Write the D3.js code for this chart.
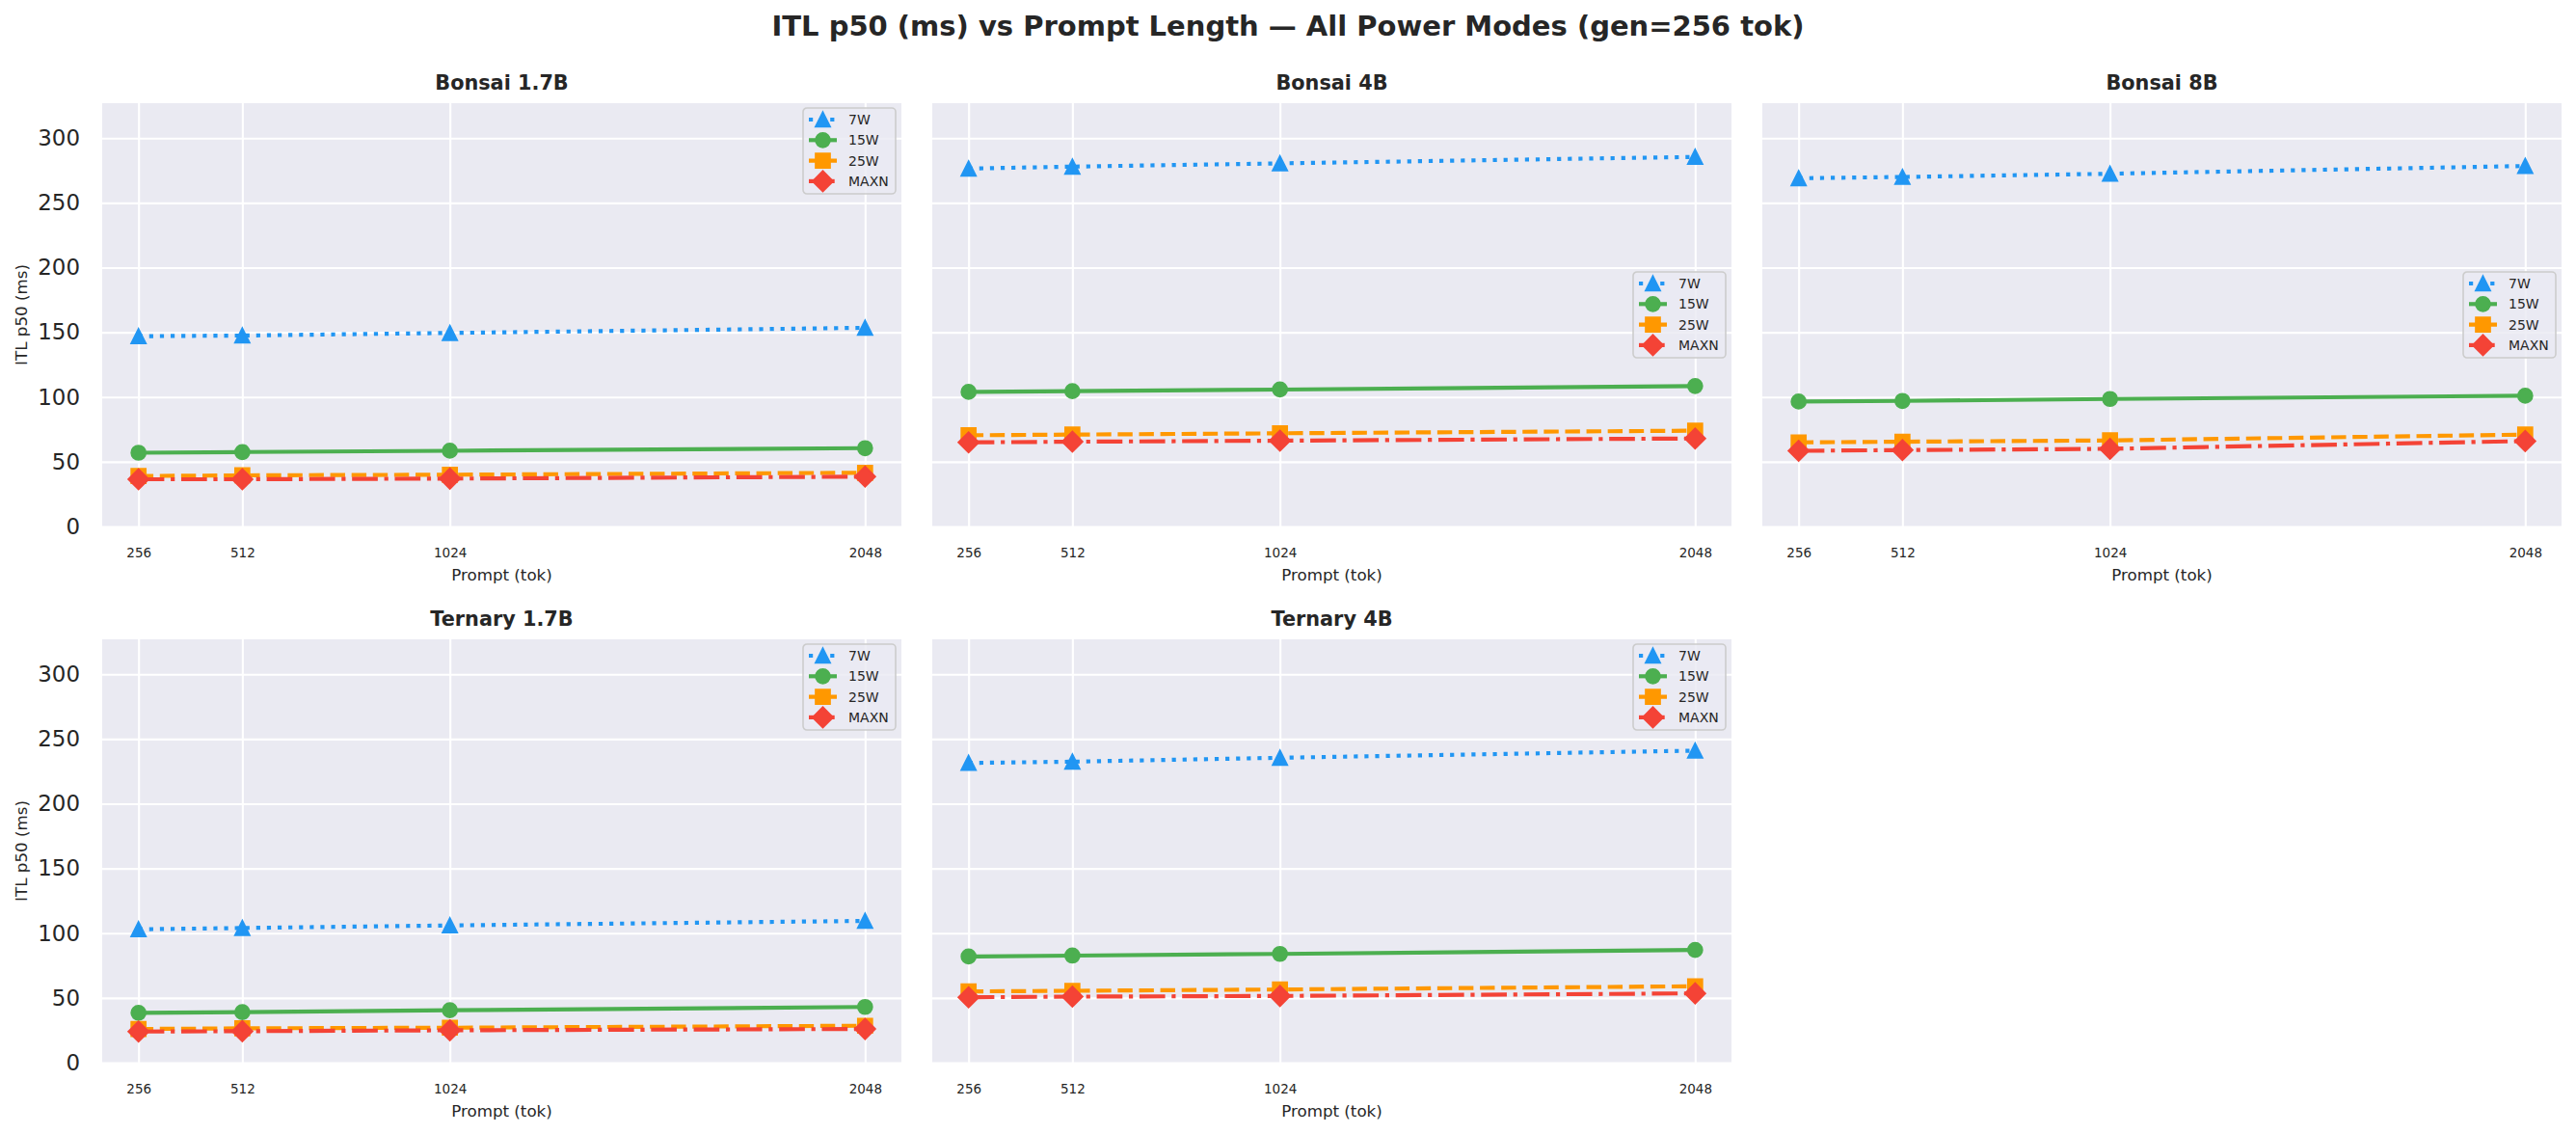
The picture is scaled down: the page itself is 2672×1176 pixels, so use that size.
<!DOCTYPE html>
<html>
<head>
<meta charset="utf-8">
<script src="https://cdn.jsdelivr.net/npm/d3@7"></script>
<style>
body { margin: 0; background: #fff; }
svg { display: block; font-family: "DejaVu Sans", sans-serif; }
</style>
</head>
<body>
<svg></svg>
<script>
const PROMPTS = [256, 512, 1024, 2048];
const MODES = ['7W', '15W', '25W', 'MAXN'];
const MODELS = ['Bonsai 1.7B', 'Bonsai 4B', 'Bonsai 8B', 'Ternary 1.7B', 'Ternary 4B'];
const Y_TICKS = [0, 50, 100, 150, 200, 250, 300];
const Y_MAX = 327;

// ITL p50 (ms), one row per power mode: 7W, 15W, 25W, MAXN
const bonsai_1_7b = [
	[147, 147.5, 149.5, 153.5],
	[57, 57.5, 58.5, 60.5],
	[39, 39.5, 40, 41.5],
	[36.5, 36.5, 37, 38.5]
];
const bonsai_4b = [
	[276.5, 278, 280.5, 285.5],
	[104, 104.5, 105.8, 108.5],
	[70.5, 71, 72, 74],
	[65, 65.5, 66.3, 68]
];
const bonsai_8b = [
	[269, 270, 272.5, 278.5],
	[96.5, 97, 98.5, 101],
	[65, 65.5, 66.5, 71],
	[58.5, 59, 60, 66]
];
const ternary_1_7b = [
	[103, 104, 106, 109.5],
	[38.5, 39, 40.5, 43],
	[26, 26.5, 27, 28.5],
	[24, 24.3, 25, 26]
];
const ternary_4b = [
	[231.5, 232.5, 235.5, 241],
	[82, 82.7, 84, 87],
	[55, 55.5, 56.5, 59],
	[50.5, 51, 51.5, 53.5]
];
const SERIES = [bonsai_1_7b, bonsai_4b, bonsai_8b, ternary_1_7b, ternary_4b];

// look of each power mode (matplotlib-ish, 150 dpi)
const STYLE = {
	'7W':   {color: '#2196F3', dash: '4.2,6.9', marker: 'triangle'},
	'15W':  {color: '#4CAF50', dash: null, marker: 'circle'},
	'25W':  {color: '#FF9800', dash: '15.4,6.7', marker: 'square'},
	'MAXN': {color: '#F44336', dash: '26.7,6.7,4.2,6.7', marker: 'diamond'}
};
const LEGEND_LOC = ['upper right', 'center right', 'center right', 'upper right', 'upper right'];

const W = 2672, H = 1176;
const TEXT = '#262626';
const BG = '#EAEAF2';
const panelW = 829, panelH = 439;
const colX = [106, 967, 1828];
const rowY = [107, 663];
const MS = 14.6;

function markerPath(type, s) {
	const h = s / 2;
	if (type === 'triangle') return `M0,${-h}L${h},${h}L${-h},${h}Z`;
	if (type === 'square') return `M${-h},${-h}H${h}V${h}H${-h}Z`;
	if (type === 'diamond') {
		const d = s * 0.7071;
		return `M0,${-d}L${d},0L0,${d}L${-d},0Z`;
	}
	return `M${h},0A${h},${h} 0 1,1 ${-h},0A${h},${h} 0 1,1 ${h},0Z`;
}

const svg = d3.select('svg')
	.attr('width', W)
	.attr('height', H)
	.attr('viewBox', [0, 0, W, H]);

svg.append('rect')
	.attr('width', W)
	.attr('height', H)
	.attr('fill', '#fff');

svg.append('text')
	.attr('x', W / 2)
	.attr('y', 37)
	.attr('text-anchor', 'middle')
	.attr('font-size', 29)
	.attr('font-weight', 'bold')
	.attr('fill', TEXT)
	.text('ITL p50 (ms) vs Prompt Length \u2014 All Power Modes (gen=256 tok)');

const xPad = 0.05 * (d3.max(PROMPTS) - d3.min(PROMPTS));

MODELS.forEach((model, i) => {
	const col = i % 3, row = Math.floor(i / 3);
	const left = colX[col], top = rowY[row];
	const data = SERIES[i];

	const xScale = d3.scaleLinear()
		.domain([d3.min(PROMPTS) - xPad, d3.max(PROMPTS) + xPad])
		.range([left, left + panelW]);
	const yScale = d3.scaleLinear()
		.domain([0, Y_MAX])
		.range([top + panelH, top]);

	const g = svg.append('g');

	g.append('rect')
		.attr('x', left)
		.attr('y', top)
		.attr('width', panelW)
		.attr('height', panelH)
		.attr('fill', BG);

	// grid
	const xGrid = d3.axisBottom(xScale).tickValues(PROMPTS).tickFormat('').tickSizeInner(-panelH).tickSizeOuter(0);
	const yGrid = d3.axisLeft(yScale).tickValues(Y_TICKS).tickFormat('').tickSizeInner(-panelW).tickSizeOuter(0);
	g.append('g')
		.attr('transform', `translate(0,${top + panelH})`)
		.call(xGrid)
		.call(a => a.select('.domain').remove())
		.selectAll('line').attr('stroke', '#fff').attr('stroke-width', 2.1);
	g.append('g')
		.attr('transform', `translate(${left},0)`)
		.call(yGrid)
		.call(a => a.select('.domain').remove())
		.selectAll('line').attr('stroke', '#fff').attr('stroke-width', 2.1);

	// tick labels
	g.append('g')
		.attr('transform', `translate(0,${top + panelH})`)
		.call(d3.axisBottom(xScale).tickValues(PROMPTS).tickFormat(d3.format('d')).tickSize(0).tickPadding(22))
		.call(a => a.select('.domain').remove())
		.selectAll('text')
		.attr('font-family', '"DejaVu Sans", sans-serif')
		.attr('font-size', 13.5)
		.attr('fill', TEXT);

	if (col === 0) {
		g.append('g')
			.attr('transform', `translate(${left},0)`)
			.call(d3.axisLeft(yScale).tickValues(Y_TICKS).tickFormat(d3.format('d')).tickSize(0).tickPadding(23))
			.call(a => a.select('.domain').remove())
			.selectAll('text')
			.attr('font-family', '"DejaVu Sans", sans-serif')
			.attr('font-size', 22.9)
			.attr('fill', TEXT);

		g.append('text')
			.attr('transform', `translate(22,${top + panelH / 2}) rotate(-90)`)
			.attr('text-anchor', 'middle')
			.attr('dy', '0.35em')
			.attr('font-size', 16.7)
			.attr('fill', TEXT)
			.text('ITL p50 (ms)');
	}

	g.append('text')
		.attr('x', left + panelW / 2)
		.attr('y', top + panelH + 50)
		.attr('dy', '0.35em')
		.attr('text-anchor', 'middle')
		.attr('font-size', 16.7)
		.attr('fill', TEXT)
		.text('Prompt (tok)');

	g.append('text')
		.attr('x', left + panelW / 2)
		.attr('y', top - 21)
		.attr('dy', '0.35em')
		.attr('text-anchor', 'middle')
		.attr('font-size', 20.8)
		.attr('font-weight', 'bold')
		.attr('fill', TEXT)
		.text(model);

	// series
	const line = d3.line()
		.x((d, j) => xScale(PROMPTS[j]))
		.y(d => yScale(d));

	MODES.forEach((mode, m) => {
		const st = STYLE[mode];
		g.append('path')
			.datum(data[m])
			.attr('d', line)
			.attr('fill', 'none')
			.attr('stroke', st.color)
			.attr('stroke-width', 4.17)
			.attr('stroke-dasharray', st.dash)
			.attr('stroke-linecap', 'butt');
		g.selectAll(null)
			.data(data[m])
			.enter()
			.append('path')
			.attr('transform', (d, j) => `translate(${xScale(PROMPTS[j])},${yScale(d)})`)
			.attr('d', markerPath(st.marker, MS))
			.attr('fill', st.color)
			.attr('stroke', st.color)
			.attr('stroke-width', 2.1);
	});

	// legend
	const lw = 96, lh = 89;
	const lx = left + panelW - 6 - lw;
	const ly = LEGEND_LOC[i] === 'upper right' ? top + 5 : top + panelH / 2 - lh / 2;
	const leg = g.append('g').attr('transform', `translate(${lx},${ly})`);
	leg.append('rect')
		.attr('width', lw)
		.attr('height', lh)
		.attr('rx', 4)
		.attr('fill', BG)
		.attr('fill-opacity', 0.8)
		.attr('stroke', '#cccccc')
		.attr('stroke-width', 1.6);
	MODES.forEach((mode, m) => {
		const st = STYLE[mode];
		const yy = 12 + m * 21.3;
		leg.append('line')
			.attr('x1', 6).attr('x2', 35)
			.attr('y1', yy).attr('y2', yy)
			.attr('stroke', st.color)
			.attr('stroke-width', 4.17)
			.attr('stroke-dasharray', st.dash);
		leg.append('path')
			.attr('transform', `translate(20.5,${yy})`)
			.attr('d', markerPath(st.marker, MS))
			.attr('fill', st.color)
			.attr('stroke', st.color)
			.attr('stroke-width', 2.1);
		leg.append('text')
			.attr('x', 47)
			.attr('y', yy)
			.attr('dy', '0.35em')
			.attr('font-size', 14)
			.attr('fill', TEXT)
			.text(mode);
	});
});
</script>
</body>
</html>
